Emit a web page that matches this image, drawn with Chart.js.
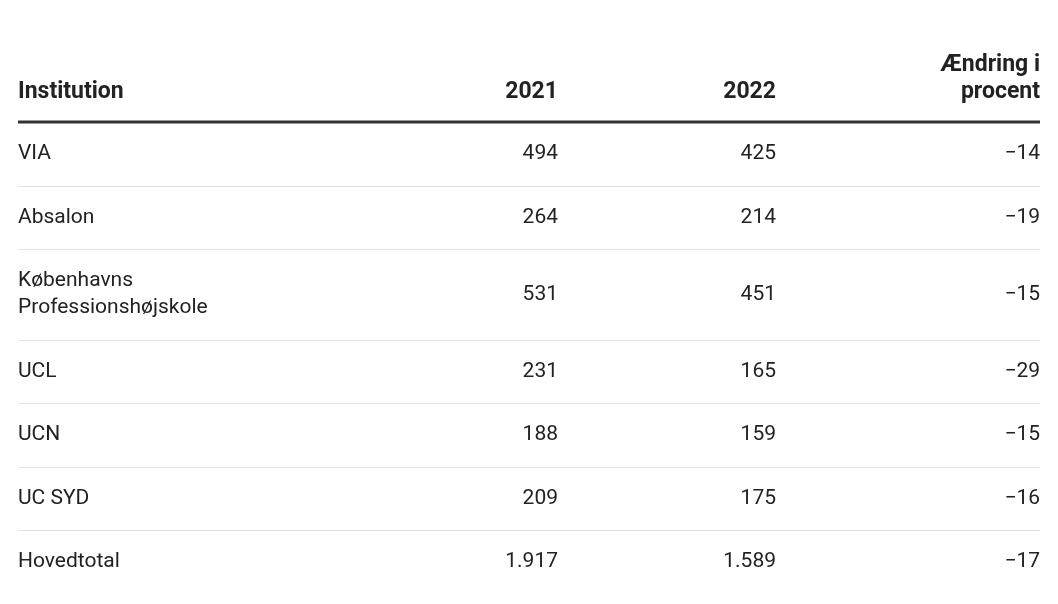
<!DOCTYPE html>
<html><head><meta charset="utf-8">
<script src="https://cdn.jsdelivr.net/npm/chart.js@4"></script>
<style>html,body{margin:0;padding:0;background:#fff}#w{width:1058px;height:604px}</style>
</head><body><div id="w"><canvas id="c"></canvas></div>
<script>
const headers = ["Institution", "2021", "2022", "Ændring i\nprocent"];
const institutions = ["VIA", "Absalon", "Københavns\nProfessionshøjskole", "UCL", "UCN", "UC SYD", "Hovedtotal"];
const values2021 = ["494", "264", "531", "231", "188", "209", "1.917"];
const values2022 = ["425", "214", "451", "165", "159", "175", "1.589"];
const changePct = ["−14", "−19", "−15", "−29", "−15", "−16", "−17"];

const colX = [18, 558, 776, 1040];
const colAlign = ["left", "right", "right", "right"];
const headerBottom = 122, baseRowH = 63.5, lineH = 27;

const rowBounds = [headerBottom];
institutions.forEach(n => rowBounds.push(rowBounds[rowBounds.length-1] + baseRowH + lineH*(n.split("\n").length-1)));

const tablePlugin = {
  id: 'table',
  afterDraw(chart) {
    const ctx = chart.ctx, xs = chart.scales.x, ys = chart.scales.y;
    ctx.save();
    ctx.fillStyle = '#222';
    ctx.textBaseline = 'middle';
    // header
    ctx.font = 'bold 23px Roboto';
    headers.forEach((h, i) => {
      const lines = h.split("\n");
      ctx.textAlign = colAlign[i];
      lines.forEach((l, k) => {
        const y = ys.getPixelForValue(headerBottom - 30 - (lines.length-1-k)*lineH);
        ctx.fillText(l, xs.getPixelForValue(colX[i]), y);
      });
    });
    ctx.strokeStyle = '#333'; ctx.lineWidth = 3;
    ctx.beginPath();
    ctx.moveTo(xs.getPixelForValue(18), ys.getPixelForValue(headerBottom));
    ctx.lineTo(xs.getPixelForValue(1040), ys.getPixelForValue(headerBottom));
    ctx.stroke();
    // rows
    ctx.font = '21px Roboto';
    institutions.forEach((name, r) => {
      const top = rowBounds[r], bot = rowBounds[r+1], mid = (top+bot)/2;
      const cells = [name, values2021[r], values2022[r], changePct[r]];
      cells.forEach((t, i) => {
        const lines = t.split("\n");
        ctx.textAlign = colAlign[i];
        lines.forEach((l, k) => {
          const y = ys.getPixelForValue(mid + (k - (lines.length-1)/2)*lineH);
          ctx.fillText(l, xs.getPixelForValue(colX[i]), y);
        });
      });
      if (r < institutions.length-1) {
        ctx.strokeStyle = '#e2e2e2'; ctx.lineWidth = 1;
        ctx.beginPath();
        const yb = Math.round(ys.getPixelForValue(bot)) + 0.5;
        ctx.moveTo(xs.getPixelForValue(18), yb);
        ctx.lineTo(xs.getPixelForValue(1040), yb);
        ctx.stroke();
      }
    });
    ctx.restore();
  }
};

new Chart(document.getElementById('c'), {
  type: 'scatter',
  data: { datasets: [{ data: [], pointRadius: 0 }] },
  options: {
    responsive: true, maintainAspectRatio: false, animation: false,
    layout: { padding: 0 },
    plugins: { legend: { display: false }, tooltip: { enabled: false } },
    scales: {
      x: { type: 'linear', min: 0, max: 1058, display: false },
      y: { type: 'linear', min: 0, max: 604, reverse: true, display: false }
    }
  },
  plugins: [tablePlugin]
});
</script></body></html>
